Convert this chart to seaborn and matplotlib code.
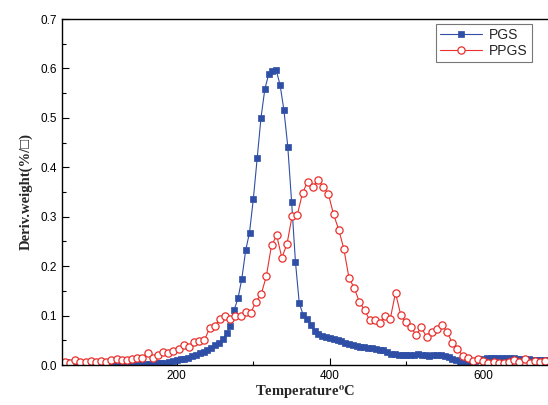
import numpy as np
import pandas as pd
import matplotlib
matplotlib.use("Agg")
import matplotlib.pyplot as plt
import seaborn as sns
from matplotlib.ticker import MultipleLocator, FixedLocator

# ---- data ----
pgs_temp = np.arange(50, 686, 5)
pgs_vals = [
    0.006, 0.007, 0.005, 0.004, 0.004, 0.003, 0.003, 0.002, 0.002, 0.002,
    0.002, 0.001, 0.001, 0.001, 0.001, 0.001, 0.001, 0.001, 0.001, 0.001,
    0.001, 0.001, 0.002, 0.002, 0.003, 0.004, 0.004, 0.005, 0.007, 0.008,
    0.010, 0.012, 0.013, 0.015, 0.018, 0.021, 0.024, 0.026, 0.030, 0.034,
    0.040, 0.045, 0.052, 0.064, 0.079, 0.112, 0.135, 0.175, 0.232, 0.268,
    0.336, 0.418, 0.500, 0.558, 0.588, 0.595, 0.596, 0.566, 0.515, 0.442,
    0.330, 0.209, 0.125, 0.102, 0.093, 0.080, 0.068, 0.062, 0.058, 0.056,
    0.054, 0.052, 0.050, 0.048, 0.045, 0.043, 0.041, 0.039, 0.037, 0.036,
    0.035, 0.034, 0.032, 0.031, 0.030, 0.026, 0.023, 0.022, 0.021, 0.020,
    0.020, 0.020, 0.021, 0.022, 0.021, 0.020, 0.019, 0.020, 0.020, 0.020,
    0.019, 0.016, 0.013, 0.010, 0.006, 0.004, 0.004, 0.006, 0.009, 0.011,
    0.013, 0.014, 0.014, 0.015, 0.015, 0.014, 0.015, 0.015, 0.014, 0.013,
    0.012, 0.012, 0.012, 0.011, 0.011, 0.011, 0.010, 0.011,
]

ppgs_temp = np.arange(53.75, 685, 6.75)
ppgs_vals = [
    0.006, 0.004, 0.010, 0.006, 0.007, 0.008, 0.006, 0.008, 0.007, 0.010,
    0.013, 0.011, 0.010, 0.012, 0.014, 0.015, 0.024, 0.015, 0.020, 0.026,
    0.025, 0.029, 0.033, 0.041, 0.036, 0.046, 0.048, 0.050, 0.074, 0.078,
    0.094, 0.099, 0.093, 0.099, 0.100, 0.108, 0.106, 0.128, 0.143, 0.180,
    0.242, 0.262, 0.217, 0.245, 0.302, 0.304, 0.348, 0.371, 0.361, 0.374,
    0.361, 0.346, 0.305, 0.274, 0.235, 0.176, 0.156, 0.128, 0.111, 0.091,
    0.091, 0.085, 0.100, 0.094, 0.146, 0.102, 0.086, 0.076, 0.061, 0.076,
    0.057, 0.066, 0.072, 0.080, 0.067, 0.044, 0.032, 0.019, 0.015, 0.008,
    0.013, 0.008, 0.005, 0.006, 0.005, 0.004, 0.006, 0.010, 0.006, 0.013,
    0.005, 0.009, 0.006, 0.008,
]

series_names = ["PGS", "PPGS"]
x_ticks = [200, 400, 600]
y_ticks = [0.0, 0.1, 0.2, 0.3, 0.4, 0.5, 0.6, 0.7]

df_pgs = pd.DataFrame({"T": pgs_temp[:len(pgs_vals)], "D": pgs_vals})
df_ppgs = pd.DataFrame({"T": ppgs_temp[:len(ppgs_vals)], "D": ppgs_vals})

sns.set_style("ticks")
plt.rcParams["font.family"] = ["Liberation Sans", "DejaVu Sans"]
plt.rcParams["mathtext.fontset"] = "stix"

fig = plt.figure(figsize=(5.48, 4.05), dpi=100)
ax = fig.add_axes([62 / 548, 40 / 405, 486 / 548, 346 / 405])

blue = "#2f4fa6"
red = "#e8302c"

sns.lineplot(data=df_pgs, x="T", y="D", ax=ax, color=blue, lw=0.8,
             marker="s", markersize=5, markeredgecolor=blue,
             markerfacecolor=blue, markeredgewidth=0.5,
             estimator=None, sort=False, label=series_names[0])
sns.lineplot(data=df_ppgs, x="T", y="D", ax=ax, color=red, lw=0.8,
             marker="o", markersize=5.2, markeredgecolor=red,
             markerfacecolor="white", markeredgewidth=0.9,
             estimator=None, sort=False, label=series_names[1])

ax.set_xlim(50, 685)
ax.set_ylim(0, 0.7)
ax.xaxis.set_major_locator(FixedLocator(x_ticks))
ax.xaxis.set_minor_locator(FixedLocator([100, 300, 500]))
ax.yaxis.set_major_locator(FixedLocator(y_ticks))
ax.yaxis.set_minor_locator(MultipleLocator(0.05))
ax.set_yticklabels([f"{v:.1f}" for v in y_ticks])
ax.tick_params(which="both", direction="in", labelsize=8.5, colors="black",
               top=False, right=False)
ax.tick_params(which="major", length=5, width=0.8)
ax.tick_params(which="minor", length=3, width=0.8)
for s in ["left", "bottom", "top"]:
    ax.spines[s].set_linewidth(1.0)
    ax.spines[s].set_color("black")
ax.spines["right"].set_visible(False)

ax.set_xlabel("Temperature$^{\\mathbf{o}}$C", family="Liberation Serif",
              fontweight="bold", fontsize=10.5, labelpad=1)
ax.set_ylabel("Deriv.weight(%/\u25a1)", family=["Liberation Serif", "DejaVu Sans"],
              fontweight="bold", fontsize=10.5, labelpad=6)

leg = ax.legend(loc="upper right", bbox_to_anchor=(0.975, 0.998), fontsize=10,
                frameon=True, fancybox=False, edgecolor="#555555",
                handlelength=3.0, handletextpad=0.5, borderpad=0.3,
                labelspacing=0.15, borderaxespad=0.3, numpoints=1)
leg.get_frame().set_linewidth(0.8)

fig.savefig("out.png", dpi=100)
